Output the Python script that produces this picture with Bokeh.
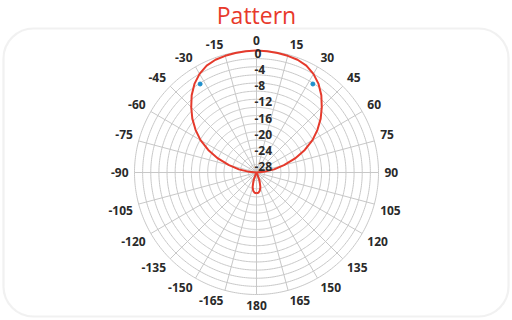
import numpy as np
from bokeh.plotting import figure
from bokeh.models import Range1d, BoxAnnotation
from bokeh.core.properties import value
from bokeh.embed import file_html
from bokeh.resources import INLINE

# Radiation pattern (dB) sampled every 5 degrees, symmetric about boresight
angles_deg = [0, 5, 10, 15, 20, 25, 30, 35, 40, 45, 50, 55, 60, 65, 70, 75, 80, 85,
              90, 95, 100, 105, 110, 115, 120, 125, 130, 135, 140, 145, 150, 155,
              160, 165, 170, 175, 180]
gain_db = [0.0, -0.05, -0.15, -0.3, -0.5, -1.0, -2.0, -3.4, -5.2, -7.3, -9.4, -11.7,
           -14.1, -16.9, -19.9, -23.0, -25.6, -28.2,
           -30.0, -30.0, -30.0, -30.0, -30.0, -30.0, -30.0, -30.0, -30.0, -30.0,
           -30.0, -30.0, -30.0, -29.5, -27.8, -26.3, -25.4, -25.0, -24.9]

# Half-power markers
marker_angles = [-32.5, 32.5]
marker_db = [-4.2, -4.2]

# Axis definitions
angle_ticks = list(range(-165, 181, 15))
radial_ticks = [0, -4, -8, -12, -16, -20, -24, -28]
radial_grid = list(range(-28, 1, 2))
db_min, db_max = -30.0, 0.0

R = 122.0  # outer radius in screen pixels


def radius(db):
    db = np.clip(np.asarray(db, dtype=float), db_min, db_max)
    return R * (db - db_min) / (db_max - db_min)


def to_xy(theta_deg, db):
    t = np.radians(np.asarray(theta_deg, dtype=float))
    r = radius(db)
    return r * np.sin(t), r * np.cos(t)


p = figure(width=512, height=320, output_backend="svg", toolbar_location=None,
           x_range=Range1d(-256, 256), y_range=Range1d(-148, 172),
           min_border=0, outline_line_color=None, background_fill_color="white")
p.axis.visible = False
p.grid.visible = False

# rounded frame
p.add_layout(BoxAnnotation(left=-253, right=252, top=144, bottom=-144,
                           border_radius=30, fill_color=None,
                           line_color="#d2d2d2", line_width=2.2))

grid_color = "#c8c8c8"
# concentric dB circles
for g in radial_grid:
    phi = np.linspace(0, 2 * np.pi, 361)
    r = radius(g)
    p.line(r * np.sin(phi), r * np.cos(phi), line_color=grid_color, line_width=1)

# angular spokes
for a in range(0, 360, 15):
    xs, ys = to_xy([a, a], [db_min, db_max])
    p.line(xs, ys, line_color=grid_color, line_width=1)

# pattern trace (mirror to full circle)
full_ang = [-a for a in angles_deg[::-1]] + angles_deg[1:]
full_db = gain_db[::-1] + gain_db[1:]
px, py = to_xy(full_ang, full_db)
p.line(px, py, line_color="#e53a2c", line_width=2)

mx, my = to_xy(marker_angles, marker_db)
p.scatter(mx, my, size=4, color="#1e8fcc")

# angle labels
lab_r = R + 6
lx, ly, ltxt, lal, lbl = [], [], [], [], []
for a in angle_ticks:
    t = np.radians(a)
    lx.append(lab_r * np.sin(t))
    ly.append(lab_r * np.cos(t))
    ltxt.append(str(a))
    s, c = np.sin(t), np.cos(t)
    lal.append("center" if abs(s) < 0.1 else ("left" if s > 0 else "right"))
    lbl.append("middle" if abs(c) < 0.1 else ("bottom" if c > 0 else "top"))
p.text(lx, ly, text=ltxt, text_align=lal, text_baseline=lbl,
       text_font=value("Open Sans"), text_font_size="12px", text_color="#2a2a2a",
       text_font_style="bold")

# radial labels along the 0 degree spoke
rx = [-2] * len(radial_ticks)
ry = [float(radius(v)) - 2.5 for v in radial_ticks]
p.text(rx, ry, text=[str(v) for v in radial_ticks], text_align="left",
       text_baseline="middle", text_font=value("Open Sans"), text_font_size="12px",
       text_color="#2a2a2a", text_font_style="bold")

# title
p.text([0], [158], text=["Pattern"], text_align="center", text_baseline="alphabetic",
       text_font=value("Open Sans"), text_font_size="23px", text_color="#e8392b")

open("out.html", "w").write(file_html(p, INLINE))
